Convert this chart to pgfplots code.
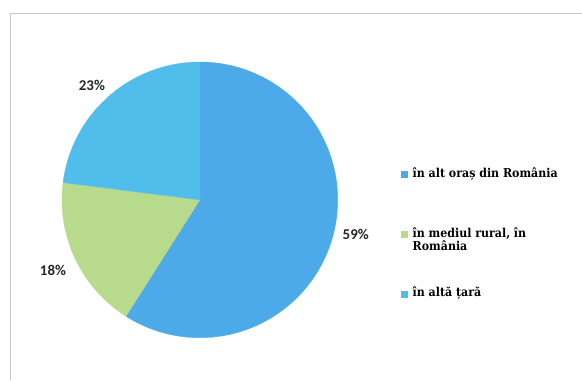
\documentclass[border=0pt]{standalone}
\usepackage{pgfplots}
\usepackage{pgfplotstable}
\pgfplotsset{compat=1.18}
\usepackage{fontspec}
\setmainfont{DejaVu Serif Condensed}
\newfontfamily\labfont{Carlito}
\definecolor{cA}{HTML}{4DAAE8}
\definecolor{cB}{HTML}{B8DA8C}
\definecolor{cC}{HTML}{50BDEB}
\definecolor{frame}{HTML}{C8C8C8}
\pgfplotstableread{
label value
A 59
B 18
C 23
}\piedata
\pgfplotstablegetelem{0}{value}\of\piedata \let\vA\pgfplotsretval
\pgfplotstablegetelem{1}{value}\of\piedata \let\vB\pgfplotsretval
\pgfplotstablegetelem{2}{value}\of\piedata \let\vC\pgfplotsretval
\pgfmathsetmacro\aZero{90}
\pgfmathsetmacro\aOne{90-3.6*\vA}
\pgfmathsetmacro\aTwo{\aOne-3.6*\vB}
\pgfmathsetmacro\aThree{\aTwo-3.6*\vC}
\begin{document}
\begin{tikzpicture}
\begin{axis}[
  hide axis, scale only axis, width=582bp, height=380bp,
  xmin=0, xmax=582, ymin=0, ymax=380, clip=false,
  legend image code/.code={\fill[#1] (0bp,0.3bp) rectangle (5.5bp,5.8bp);},
  legend style={at={(axis cs:401.5,212)}, anchor=north west, draw=none, fill=none,
    inner sep=0pt, row sep=31bp,
    font=\fontsize{12.3}{14}\selectfont\bfseries,
    /tikz/every odd column/.style={column sep=5.5bp},
    nodes={anchor=base west, inner sep=0pt, text height=9bp, text depth=20bp}},
]
\path (axis cs:0,0) rectangle (axis cs:582,380);
\draw[frame, line width=0.8bp] (axis cs:10.5,0) -- (axis cs:10.5,366.5) -- (axis cs:582,366.5);
\addplot[fill=cA, draw=cA, line width=0.3bp, domain=\aOne:\aZero, samples=80, variable=\t]
  ({200+138*cos(\t)},{180+138*sin(\t)}) -- (axis cs:200,180) -- cycle;
\addlegendentry{în alt oraș din România}
\addplot[fill=cB, draw=cB, line width=0.3bp, domain=\aTwo:\aOne, samples=30, variable=\t]
  ({200+138*cos(\t)},{180+138*sin(\t)}) -- (axis cs:200,180) -- cycle;
\addlegendentry{\parbox[t]{4.5cm}{în mediul rural, în\\România}}
\addplot[fill=cC, draw=cC, line width=0.3bp, domain=\aThree:\aTwo, samples=40, variable=\t]
  ({200+138*cos(\t)},{180+138*sin(\t)}) -- (axis cs:200,180) -- cycle;
\addlegendentry{în altă țară}
\node[font=\labfont\fontsize{15}{16}\selectfont\bfseries, text=black!85] at (axis cs:92,295) {23\%};
\node[font=\labfont\fontsize{15}{16}\selectfont\bfseries, text=black!85] at (axis cs:53,109) {18\%};
\node[font=\labfont\fontsize{15}{16}\selectfont\bfseries, text=black!85] at (axis cs:356,145) {59\%};
\end{axis}
\end{tikzpicture}
\end{document}
